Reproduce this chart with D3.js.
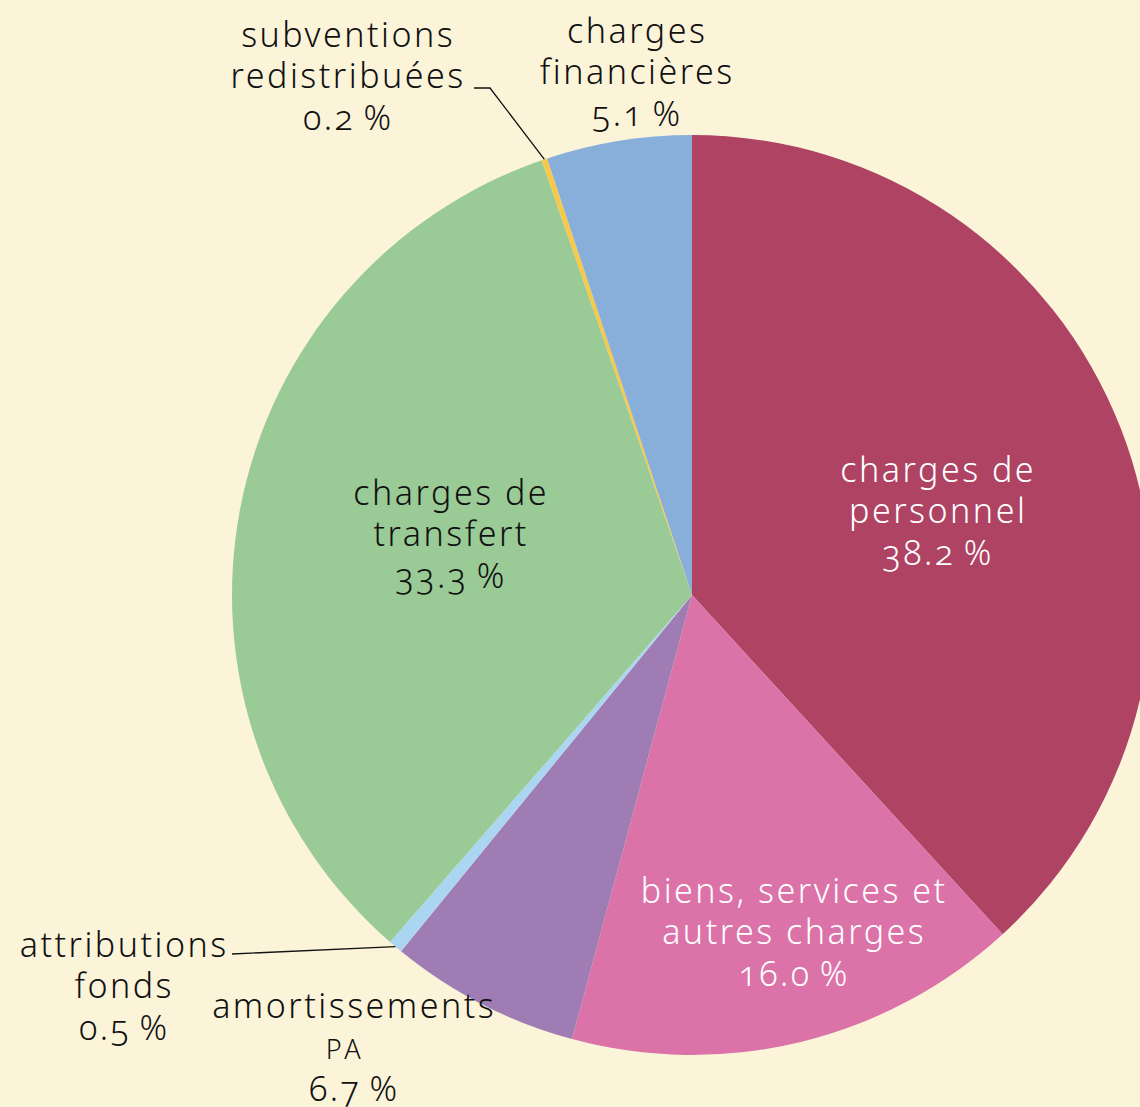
<!DOCTYPE html>
<html>
<head>
<meta charset="utf-8">
<script src="https://cdn.jsdelivr.net/npm/d3@7"></script>
<style>
  html, body { margin: 0; padding: 0; background: #fbf4d9; }
  svg { display: block; }
  text {
    font-family: "Noto Sans", "Open Sans", sans-serif;
    font-weight: 350;
    font-size: 34px;
    letter-spacing: 2.5px;
    font-variant-numeric: oldstyle-nums;
  }
</style>
</head>
<body>
<svg width="1140" height="1107"></svg>
<script>
// slices, clockwise from 12 o'clock
var categories = [
    "charges de personnel",
    "biens, services et autres charges",
    "amortissements PA",
    "attributions fonds",
    "charges de transfert",
    "subventions redistribuées",
    "charges financières"
];
var shares = [38.2, 16.0, 6.7, 0.5, 33.3, 0.2, 5.1];
var shareLabels = ["38.2\u2009%", "16.0\u2009%", "6.7\u2009%", "0.5\u2009%", "33.3\u2009%", "0.2\u2009%", "5.1\u2009%"];
var labelLines = [
    ["charges de", "personnel"],
    ["biens, services et", "autres charges"],
    ["amortissements", "PA"],
    ["attributions", "fonds"],
    ["charges de", "transfert"],
    ["subventions", "redistribuées"],
    ["charges", "financières"]
];

var colors = ["#ae4364", "#db73a9", "#a07cb4", "#abd6f2", "#9aca95", "#f6c94a", "#88aeda"];

var svg = d3.select("svg"),
    width = +svg.attr("width"),
    height = +svg.attr("height"),
    cx = 692, cy = 595,
    radius = 460,
    lineH = 41.5;

var g = svg.append("g").attr("transform", "translate(" + cx + "," + cy + ")");

var data = categories.map(function(c, i) {
    return {name: c, value: shares[i], label: shareLabels[i], lines: labelLines[i], color: colors[i]};
});

var pie = d3.pie()
    .sort(null)
    .value(function(d) { return d.value; });

var arc = d3.arc()
    .innerRadius(0)
    .outerRadius(radius);

var arcs = pie(data);

g.selectAll("path.slice")
    .data(arcs)
    .enter().append("path")
    .attr("class", "slice")
    .attr("fill", function(d) { return d.data.color; })
    .attr("d", arc);

// label block centres, offset from the pie centre
var placement = {
    "charges de personnel": {dx: 245, dy: -84, colour: "#fff"},
    "biens, services et autres charges": {dx: 101, dy: 337, colour: "#fff"},
    "charges de transfert": {dx: -242, dy: -61, colour: "#111"},
    "charges financières": {dx: -56, dy: -523, colour: "#111"},
    "subventions redistribuées": {dx: -345, dy: -519, colour: "#111"},
    "attributions fonds": {dx: -569, dy: 391, colour: "#111"},
    "amortissements PA": {dx: -339, dy: 452, colour: "#111"}
};

// leader lines for the thin slices: arc point -> elbow -> end
var leaders = {
    "subventions redistribuées": [[-202, -507], [-218, -507]],
    "attributions fonds": [[-460, 359]]
};

arcs.forEach(function(d) {
    var p = placement[d.data.name],
        x = p.dx + 1.2, y = p.dy;
    var lines = d.data.lines.concat([d.data.label]);
    var t = g.append("text")
        .attr("text-anchor", "middle")
        .attr("fill", p.colour);
    lines.forEach(function(l, i) {
        var ts = t.append("tspan")
            .attr("x", x)
            .attr("y", y + (i - (lines.length - 1) / 2) * lineH + 12)
            .text(l);
        if (l === "PA") {
            ts.attr("x", x - 9)
                .style("font-size", "27px").style("letter-spacing", "4px");
        }
    });

    if (leaders[d.data.name]) {
        var mid = (d.startAngle + d.endAngle) / 2;
        var pts = [[Math.sin(mid) * radius, -Math.cos(mid) * radius]].concat(leaders[d.data.name]);
        g.append("path")
            .attr("fill", "none")
            .attr("stroke", "#111")
            .attr("stroke-width", 1.3)
            .attr("d", d3.line()(pts));
    }
});
</script>
</body>
</html>
